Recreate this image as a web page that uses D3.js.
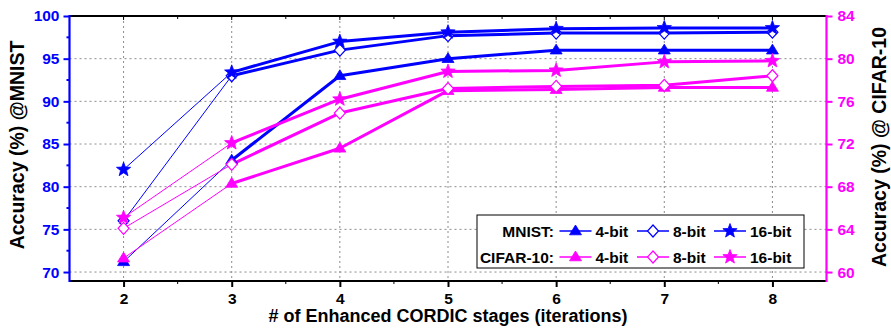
<!DOCTYPE html>
<html><head><meta charset="utf-8">
<script src="https://cdn.jsdelivr.net/npm/d3@7"></script>
<style>
body{margin:0;background:#fff;}
text{font-family:"Liberation Sans",Arial,sans-serif;font-weight:bold;}
</style></head>
<body><svg id="c" width="891" height="335"></svg>
<script>
const stages = [2,3,4,5,6,7,8];
const mnist4  = [71.2, 83.1, 93.0, 95.0, 96.0, 96.0, 96.0];
const mnist8  = [76.0, 93.0, 96.0, 97.7, 98.0, 98.0, 98.1];
const mnist16 = [82.0, 93.4, 97.0, 98.1, 98.5, 98.6, 98.6];
const cifar4  = [61.3, 68.3, 71.6, 77.0, 77.1, 77.3, 77.3];
const cifar8  = [64.1, 70.1, 74.9, 77.2, 77.4, 77.5, 78.4];
const cifar16 = [65.1, 72.1, 76.2, 78.8, 78.9, 79.7, 79.8];
const leftTicks = [70,75,80,85,90,95,100];
const rightTicks = [60,64,68,72,76,80,84];
const xTitle = "# of Enhanced CORDIC stages (iterations)";
const yLeftTitle = "Accuracy (%) @MNIST";
const yRightTitle = "Accuracy (%) @ CIFAR-10";

const BLUE="#0000ff", MAG="#ff00ff";
const svg = d3.select("#c");
const L=69.5, R=826.5, T=16, B=281;
const x = d3.scaleLinear().domain([1.5,8.5]).range([L,R]);
const yL = d3.scaleLinear().domain([68.95,100]).range([B,T]);
const yR = d3.scaleLinear().domain([59.16,84]).range([B,T]);

// grid
const g = svg.append("g");
leftTicks.filter(v=>v<100).forEach(v=>{
  g.append("line").attr("x1",L).attr("x2",R).attr("y1",yL(v)).attr("y2",yL(v))
   .attr("stroke","#8c8c8c").attr("stroke-width",1).attr("stroke-dasharray","2,3");
});
stages.forEach(v=>{
  g.append("line").attr("x1",x(v)).attr("x2",x(v)).attr("y1",T).attr("y2",B)
   .attr("stroke","#8c8c8c").attr("stroke-width",1).attr("stroke-dasharray","2,3");
});

// axes
const xb = svg.append("g").attr("transform",`translate(0,${B})`)
  .call(d3.axisBottom(x).tickValues(stages).tickSize(6).tickFormat(d3.format("d")));
xb.select(".domain").remove();
xb.selectAll(".tick line").attr("stroke","#000").attr("stroke-width",2);
xb.selectAll(".tick text").attr("font-size",15.5).attr("fill","#000").attr("dy","0.9em");
const xminor = d3.range(2.5,8.5,1);
xminor.forEach(v=>{
  svg.append("line").attr("x1",x(v)).attr("x2",x(v)).attr("y1",B).attr("y2",B+3).attr("stroke","#000").attr("stroke-width",1);
  svg.append("line").attr("x1",x(v)).attr("x2",x(v)).attr("y1",T).attr("y2",T+3).attr("stroke","#000").attr("stroke-width",1);
});
stages.forEach(v=>{
  svg.append("line").attr("x1",x(v)).attr("x2",x(v)).attr("y1",T).attr("y2",T+4).attr("stroke","#000").attr("stroke-width",1);
});
svg.append("line").attr("x1",L).attr("x2",R).attr("y1",B).attr("y2",B).attr("stroke","#000").attr("stroke-width",2.2);
svg.append("line").attr("x1",L).attr("x2",R).attr("y1",T).attr("y2",T).attr("stroke","#000").attr("stroke-width",2.2);

const yl = svg.append("g").attr("transform",`translate(${L},0)`)
  .call(d3.axisLeft(yL).tickValues(leftTicks).tickSize(6).tickPadding(4));
yl.select(".domain").remove();
yl.selectAll(".tick line").attr("stroke",BLUE).attr("stroke-width",2);
yl.selectAll(".tick text").attr("font-size",15.5).attr("fill",BLUE);
d3.range(72.5,100,5).forEach(v=>{
  svg.append("line").attr("x1",L-3).attr("x2",L).attr("y1",yL(v)).attr("y2",yL(v)).attr("stroke",BLUE).attr("stroke-width",2);
});
svg.append("line").attr("x1",L).attr("x2",L).attr("y1",T-1).attr("y2",B+1).attr("stroke",BLUE).attr("stroke-width",2.2);

const yr = svg.append("g").attr("transform",`translate(${R},0)`)
  .call(d3.axisRight(yR).tickValues(rightTicks).tickSize(6).tickPadding(5));
yr.select(".domain").remove();
yr.selectAll(".tick line").attr("stroke",MAG).attr("stroke-width",2);
yr.selectAll(".tick text").attr("font-size",15.5).attr("fill",MAG);
svg.append("line").attr("x1",R).attr("x2",R).attr("y1",T-1).attr("y2",B+1).attr("stroke",MAG).attr("stroke-width",2.2);

// titles
svg.append("text").attr("x",(L+R)/2+0).attr("y",322).attr("text-anchor","middle").attr("font-size",18).text(xTitle);
svg.append("text").attr("transform",`translate(17,145) rotate(-90)`).attr("text-anchor","middle")
  .attr("dominant-baseline","central").attr("font-size",19.5).text(yLeftTitle);
svg.append("text").attr("transform",`translate(879,147) rotate(-90)`).attr("text-anchor","middle")
  .attr("dominant-baseline","central").attr("font-size",19.5).text(yRightTitle);

// markers
function starPath(r){
  const ri=r*0.42, pts=[];
  for(let i=0;i<10;i++){const a=-Math.PI/2+i*Math.PI/5; const rr=i%2?ri:r; pts.push([rr*Math.cos(a), rr*Math.sin(a)]);}
  return "M"+pts.map(p=>p[0].toFixed(2)+","+p[1].toFixed(2)).join("L")+"Z";
}
const markers = {
  tri: {d:"M0,-6L6,3.8L-6,3.8Z", fill:true},
  dia: {d:"M0,-6L5.5,0L0,6L-5.5,0Z", fill:false},
  star:{d:starPath(7.5), fill:true}
};
const series = [
  {v:mnist4, c:BLUE, m:"tri", s:yL},
  {v:mnist8, c:BLUE, m:"dia", s:yL},
  {v:mnist16, c:BLUE, m:"star", s:yL},
  {v:cifar4, c:MAG, m:"tri", s:yR},
  {v:cifar8, c:MAG, m:"dia", s:yR},
  {v:cifar16, c:MAG, m:"star", s:yR},
];
const lineG = svg.append("g"), markG = svg.append("g");
series.forEach(se=>{
  const pts = stages.map((st,i)=>[x(st), se.s(se.v[i])]);
  const ln = d3.line();
  lineG.append("path").attr("d",ln(pts.slice(0,2))).attr("fill","none").attr("stroke",se.c).attr("stroke-width",1);
  lineG.append("path").attr("d",ln(pts.slice(1))).attr("fill","none").attr("stroke",se.c).attr("stroke-width",3).attr("stroke-linejoin","round");
  pts.forEach(p=>{
    const mk = markers[se.m];
    markG.append("path").attr("d",mk.d).attr("transform",`translate(${p[0]},${p[1]})`)
      .attr("fill",mk.fill?se.c:"#fff").attr("stroke",se.c).attr("stroke-width",mk.fill?0.8:1.2);
  });
});

// legend
const lg = svg.append("g");
lg.append("rect").attr("x",477).attr("y",215).attr("width",327).attr("height",53)
  .attr("fill","#fff").attr("stroke","#000").attr("stroke-width",1);
const rows = [{label:"MNIST:", c:BLUE, y:231},{label:"CIFAR-10:", c:MAG, y:257}];
const cols = [{m:"tri", t:"4-bit", cx:575.5},{m:"dia", t:"8-bit", cx:653},{m:"star", t:"16-bit", cx:730}];
rows.forEach(r=>{
  lg.append("text").attr("x",554).attr("y",r.y).attr("text-anchor","end").attr("dominant-baseline","central")
    .attr("font-size",15.5).text(r.label);
  cols.forEach(c=>{
    lg.append("line").attr("x1",c.cx-16).attr("x2",c.cx+16).attr("y1",r.y).attr("y2",r.y).attr("stroke",r.c).attr("stroke-width",1.5);
    const mk = markers[c.m];
    lg.append("path").attr("d",mk.d).attr("transform",`translate(${c.cx},${r.y})`)
      .attr("fill",mk.fill?r.c:"#fff").attr("stroke",r.c).attr("stroke-width",mk.fill?0.8:1.2);
    lg.append("text").attr("x",c.cx+20).attr("y",r.y).attr("dominant-baseline","central").attr("font-size",15.5).text(c.t);
  });
});
</script></body></html>
